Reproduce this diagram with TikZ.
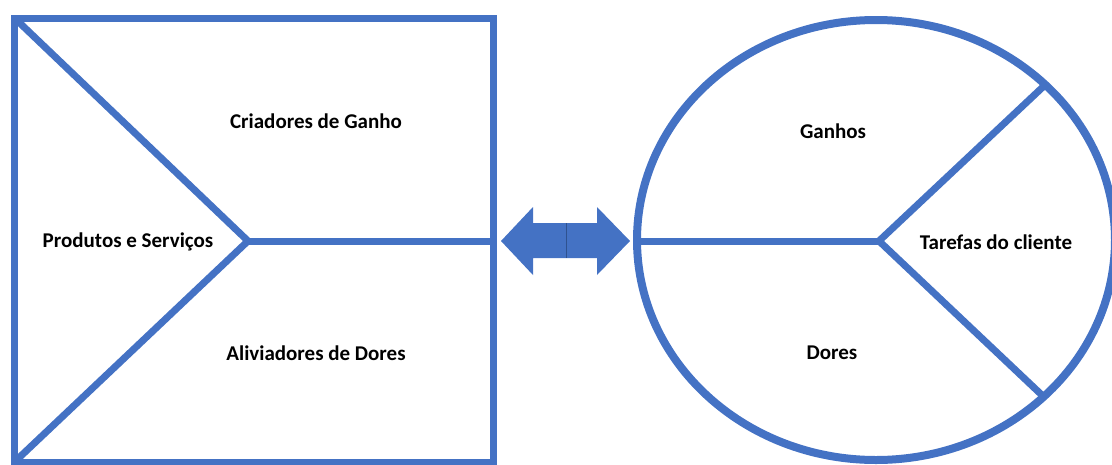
\documentclass[tikz,border=0pt]{standalone}
\usepackage{fontspec}
\setmainfont{Carlito}
\definecolor{officeblue}{HTML}{4472C4}
\definecolor{seam}{HTML}{2F528F}
\begin{document}
\begin{tikzpicture}[x=1pt,y=-1pt,
  shapeline/.style={draw=officeblue,line width=7pt,line join=miter},
  lbl/.style={font=\bfseries\fontsize{21}{24}\selectfont,text=black,inner sep=0pt}]
\useasboundingbox (0,0) rectangle (1112,464);
\clip (0,0) rectangle (1112,464);
% left square
\coordinate (tl) at (14.5,18);
\coordinate (bl) at (14.5,462);
\coordinate (apex) at (248,241);
\coordinate (rmid) at (493,241);
\draw[shapeline] (tl) rectangle (493,462);
\draw[shapeline] (tl) -- (apex) -- (bl);
\draw[shapeline] (apex) -- (rmid);
% right ellipse
\coordinate (ec) at (876,240);
\coordinate (eleft) at (637,241);
\coordinate (hub) at (879,241);
\coordinate (sp1) at (1045,85);
\coordinate (sp2) at (1045,398);
\draw[shapeline,line width=8pt] (ec) ellipse [x radius=239, y radius=220];
\draw[shapeline] (eleft) -- (hub);
\draw[shapeline] (sp1) -- (hub) -- (sp2);
% double arrow
\coordinate (seamtop) at (566,223);
\coordinate (seambot) at (566,258);
\fill[officeblue] (501,241) -- (533,207) -- (533,223) -- (seamtop) -- (seambot) -- (533,258) -- (533,275) -- cycle;
\fill[officeblue] (630,241) -- (597,207) -- (597,223) -- (seamtop) -- (seambot) -- (597,258) -- (597,275) -- cycle;
\draw[seam,line width=0.6pt] (seamtop) -- (seambot);
% labels
\node[lbl] (cg) at (316,121) {Criadores de Ganho};
\node[lbl] (ps) at (128,242) {Produtos e Serviços};
\node[lbl] (ad) at (316,353) {Aliviadores de Dores};
\node[lbl] (ga) at (833,131) {Ganhos};
\node[lbl] (tc) at (996,242) {Tarefas do cliente};
\node[lbl] (do) at (832,353) {Dores};
\end{tikzpicture}
\end{document}
